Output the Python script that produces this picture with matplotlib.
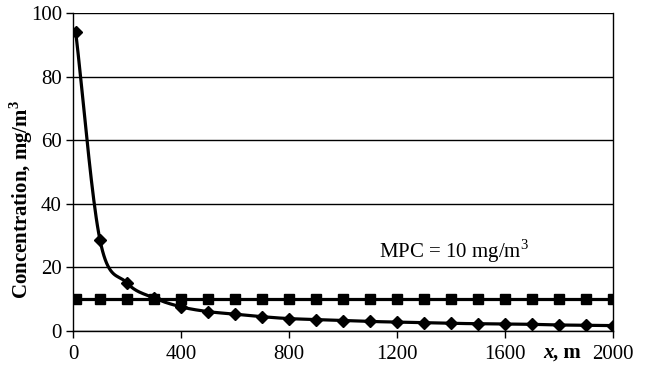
import numpy as np
import matplotlib
matplotlib.use("Agg")
import matplotlib.pyplot as plt

x_vals = [10, 100, 200, 300, 400, 500, 600, 700, 800, 900, 1000, 1100, 1200,
          1300, 1400, 1500, 1600, 1700, 1800, 1900, 2000]
conc = [94.0, 28.6, 15.1, 10.4, 7.6, 6.1, 5.3, 4.5, 3.9, 3.6, 3.3, 3.0, 2.8,
        2.6, 2.4, 2.3, 2.2, 2.1, 1.9, 1.8, 1.7]
mpc = [10] * len(x_vals)
x_ticks = [0, 400, 800, 1200, 1600, 2000]
y_ticks = [0, 20, 40, 60, 80, 100]


def catmull_rom(x, y, n=20):
    x = np.asarray(x, float)
    y = np.asarray(y, float)
    px = np.concatenate([[2 * x[0] - x[1]], x, [2 * x[-1] - x[-2]]])
    py = np.concatenate([[2 * y[0] - y[1]], y, [2 * y[-1] - y[-2]]])
    ox, oy = [], []
    t = np.linspace(0, 1, n, endpoint=False)
    for i in range(1, len(px) - 2):
        p0, p1, p2, p3 = (np.array([px[j], py[j]]) for j in range(i - 1, i + 3))
        for tt in t:
            pt = 0.5 * ((2 * p1) + (-p0 + p2) * tt + (2 * p0 - 5 * p1 + 4 * p2 - p3) * tt ** 2
                        + (-p0 + 3 * p1 - 3 * p2 + p3) * tt ** 3)
            ox.append(pt[0]); oy.append(pt[1])
    ox.append(x[-1]); oy.append(y[-1])
    return np.array(ox), np.array(oy)


plt.rcParams['font.family'] = ['Liberation Serif', 'DejaVu Serif']
plt.rcParams['mathtext.fontset'] = 'custom'
plt.rcParams['mathtext.rm'] = 'Liberation Serif'
plt.rcParams['mathtext.bf'] = 'Liberation Serif:bold'
fig = plt.figure(figsize=(6.47, 3.74), dpi=100)
ax = fig.add_axes([73 / 647, 1 - 331 / 374, 540 / 647, 318 / 374])

sx, sy = catmull_rom(x_vals, conc)
ax.plot(sx, sy, color='black', lw=2.3, zorder=3, solid_capstyle='round')
ax.plot(x_vals, conc, linestyle='none', marker='D', markersize=6, color='black', zorder=4)
ax.plot(x_vals, mpc, color='black', lw=2.3, marker='s', markersize=7, zorder=3)

ax.set_xlim(0, 2000)
ax.set_ylim(0, 100)
ax.set_xticks(x_ticks)
ax.set_yticks(y_ticks)
ax.tick_params(axis='both', direction='out', length=5, width=1, labelsize=15, colors='black')
ax.tick_params(axis='x', pad=5)
ax.tick_params(axis='y', pad=3)
ax.grid(axis='y', color='black', lw=1)
ax.set_axisbelow(True)
for s in ['left', 'bottom', 'right']:
    ax.spines[s].set_linewidth(1)
ax.spines['top'].set_visible(False)

fig.text(21 / 647, 1 - 199 / 374, r'Concentration, mg/m$^{\mathbf{3}}$', fontsize=15,
         fontweight='bold', rotation=90, ha='center', va='center')
ax.text(1410, 25, r'MPC = 10 mg/m$^{3}$', fontsize=15, ha='center', va='center')
ax.text(0.870, -0.068, 'x', transform=ax.transAxes, fontsize=15, fontweight='bold',
        fontstyle='italic', ha='left', va='center')
ax.text(0.889, -0.068, ', m', transform=ax.transAxes, fontsize=15, fontweight='bold',
        ha='left', va='center')

fig.savefig('out.png', dpi=100)
